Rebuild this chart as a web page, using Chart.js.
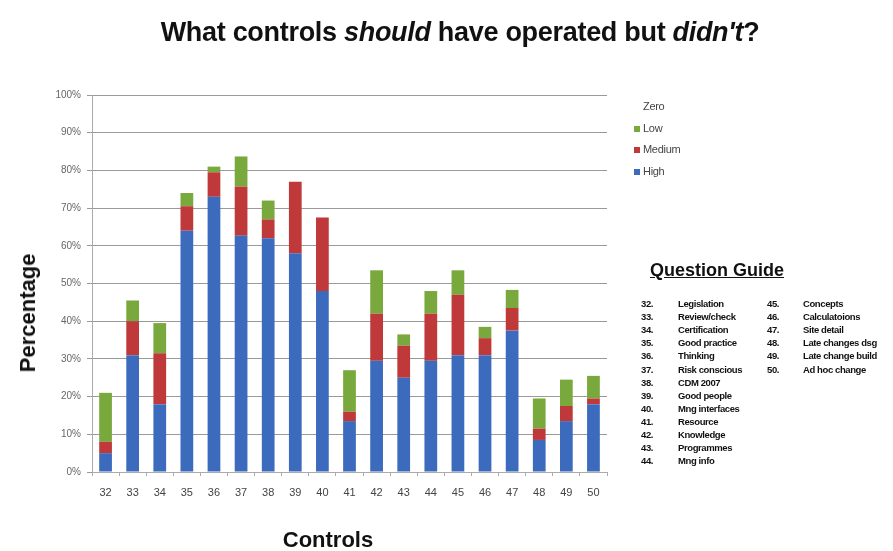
<!DOCTYPE html>
<html>
<head>
<meta charset="utf-8">
<script src="https://cdn.jsdelivr.net/npm/chart.js@4.4.0/dist/chart.umd.min.js"></script>
<style>
    body { margin: 0; background: #fff; }
    #wrap { position: relative; width: 893px; height: 551px; font-family: "Liberation Sans", Arial, sans-serif; color: #111; }
    #chart { position: absolute; left: 0; top: 0; }
    .mainTitle { position: absolute; left: 0; width: 920px; top: 17px; text-align: center; font-size: 27px; font-weight: bold; letter-spacing: -0.3px; }
    .yTitle { position: absolute; left: 28px; top: 313px; transform: translate(-50%, -50%) rotate(-90deg); font-size: 22px; font-weight: bold; white-space: nowrap; }
    .xTitle { position: absolute; left: 328px; top: 540px; transform: translate(-50%, -50%); font-size: 22px; font-weight: bold; }
    #legend { position: absolute; left: 634px; top: 96px; font-size: 11px; color: #444; letter-spacing: -0.3px; }
    #legend div { height: 21.5px; line-height: 21.5px; white-space: nowrap; }
    #legend span.box { display: inline-block; width: 6px; height: 6px; margin-right: 3px; vertical-align: middle; }
    .guideTitle { position: absolute; left: 650px; top: 260px; font-size: 18px; font-weight: bold; text-decoration: underline; }
    #guide { position: absolute; left: 0; top: 0; font-size: 9.5px; font-weight: bold; letter-spacing: -0.4px; }
    #guide div { position: absolute; white-space: nowrap; line-height: 12px; }
</style>
</head>
<body>
<div id="wrap">
    <canvas id="chart" width="893" height="551"></canvas>
    <div class="mainTitle">What controls <i>should</i> have operated but <i>didn't</i>?</div>
    <div class="yTitle">Percentage</div>
    <div class="xTitle">Controls</div>
    <div id="legend"></div>
    <div class="guideTitle">Question Guide</div>
    <div id="guide"></div>
</div>
<script>
// categorias (numero de pregunta)
const controls = ["32", "33", "34", "35", "36", "37", "38", "39", "40", "41",
    "42", "43", "44", "45", "46", "47", "48", "49", "50"];

// porcentajes
const high = [5, 31, 18, 64, 73, 62.7, 62, 58, 48, 13.5, 29.5, 25, 29.5, 31, 31, 37.5, 8.5, 13.5, 18];
const medium = [3, 9, 13.5, 6.5, 6.5, 13, 5, 19, 19.5, 2.5, 12.5, 8.5, 12.5, 16, 4.5, 6, 3, 4, 1.5];
const low = [13, 5.5, 8, 3.5, 1.5, 8, 5, 0, 0, 11, 11.5, 3, 6, 6.5, 3, 4.8, 8, 7, 6];
const zero = [0, 0, 0, 0, 0, 0, 0, 0, 0, 0, 0, 0, 0, 0, 0, 0, 0, 0, 0];

const yTicks = [0, 10, 20, 30, 40, 50, 60, 70, 80, 90, 100];

const guideLeft = [
    ["32.", "Legislation"], ["33.", "Review/check"], ["34.", "Certification"],
    ["35.", " Good practice"], ["36.", "Thinking"], ["37.", "Risk conscious"],
    ["38.", "CDM 2007"], ["39.", "Good people"], ["40.", "Mng interfaces"],
    ["41.", "Resource"], ["42.", "Knowledge"], ["43.", "Programmes"], ["44.", "Mng info"],
];
const guideRight = [
    ["45.", "Concepts"], ["46.", "Calculatoions"], ["47.", "Site detail"],
    ["48.", "Late changes dsg"], ["49.", "Late change build"], ["50.", "Ad hoc change"],
];

const COLORS = {
    high: "#3c6bbd",
    medium: "#c0393a",
    low: "#79a93d",
    zero: "#ffffff",
};

const datasets = [
    { label: "High", data: high, backgroundColor: COLORS.high },
    { label: "Medium", data: medium, backgroundColor: COLORS.medium },
    { label: "Low", data: low, backgroundColor: COLORS.low },
    { label: "Zero", data: zero, backgroundColor: COLORS.zero },
];

new Chart(document.getElementById("chart"), {
    type: "bar",
    data: {
        labels: controls,
        datasets: datasets.map((d) => ({
            ...d,
            borderWidth: 0,
            barPercentage: 0.47,
            categoryPercentage: 1,
        })),
    },
    options: {
        responsive: false,
        animation: false,
        devicePixelRatio: 1,
        layout: { padding: { left: 0, right: 286, top: 95, bottom: 0 } },
        plugins: {
            legend: { display: false },
            tooltip: { enabled: false },
        },
        scales: {
            x: {
                stacked: true,
                afterFit: (s) => { s.height = 79; },
                grid: {
                    offset: true,
                    drawOnChartArea: false,
                    tickLength: 4,
                    color: "#aaa",
                },
                border: { color: "#aaa" },
                ticks: {
                    color: "#444",
                    font: { size: 11, family: "'Liberation Sans', Arial" },
                    padding: 10,
                    maxRotation: 0,
                },
            },
            y: {
                stacked: true,
                min: 0,
                max: 100,
                afterFit: (s) => { s.width = 92; },
                afterBuildTicks: (s) => { s.ticks = yTicks.map((v) => ({ value: v })); },
                grid: { color: "#9a9a9a", tickLength: 5 },
                border: { color: "#aaa" },
                ticks: {
                    color: "#666",
                    font: { size: 10, family: "'Liberation Sans', Arial" },
                    padding: 6,
                    callback: (v) => v + "%",
                },
            },
        },
    },
});

// leyenda en orden inverso, como en el original
const legend = document.getElementById("legend");
datasets.slice().reverse().forEach((d) => {
    const row = document.createElement("div");
    const box = document.createElement("span");
    box.className = "box";
    box.style.background = d.backgroundColor;
    row.appendChild(box);
    row.appendChild(document.createTextNode(d.label));
    legend.appendChild(row);
});

// guia de preguntas
function addGuide(list, numX, textX) {
    const guide = document.getElementById("guide");
    list.forEach((item, i) => {
        const top = Math.round(298 + i * 13.1);
        const n = document.createElement("div");
        n.style.left = numX + "px";
        n.style.top = top + "px";
        n.textContent = item[0];
        const t = document.createElement("div");
        t.style.left = textX + "px";
        t.style.top = top + "px";
        t.textContent = item[1];
        guide.appendChild(n);
        guide.appendChild(t);
    });
}
addGuide(guideLeft, 641, 678);
addGuide(guideRight, 767, 803);
</script>
</body>
</html>
